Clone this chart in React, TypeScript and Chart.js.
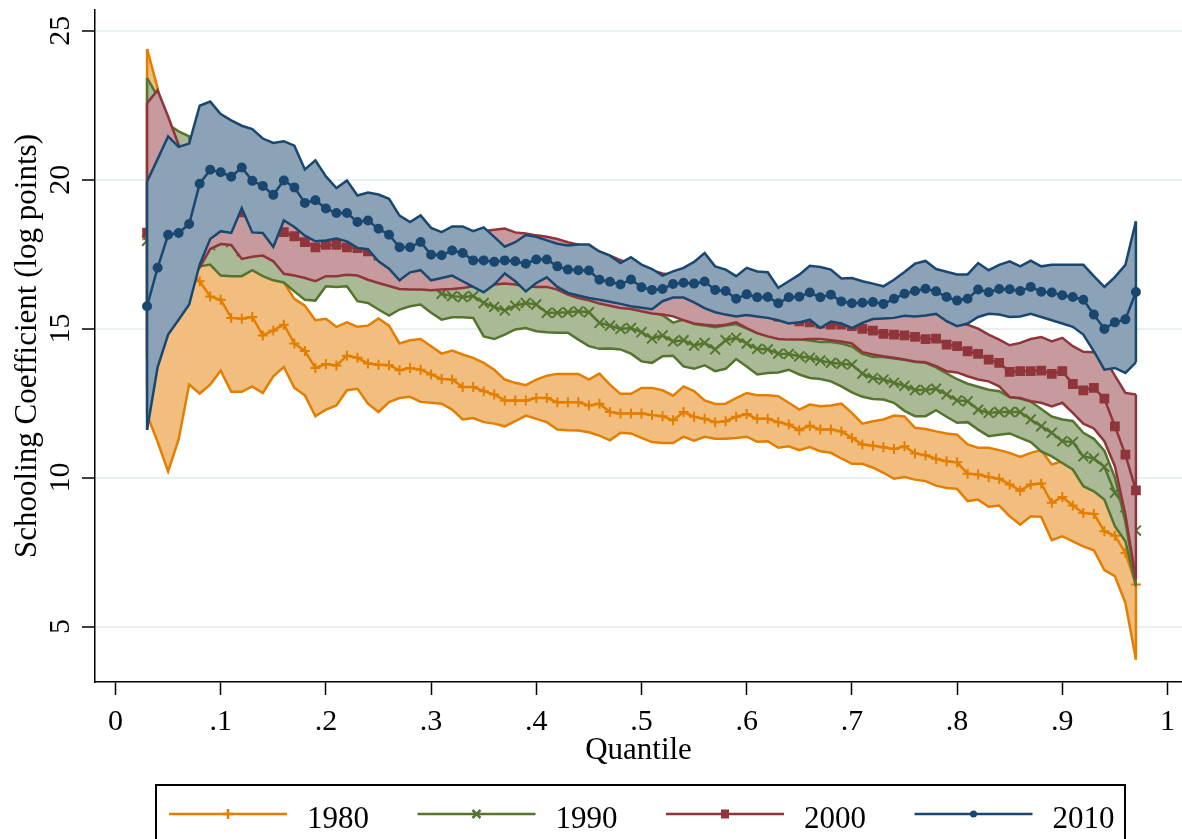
import React, { useEffect, useRef } from 'react';
import { Chart, registerables } from 'chart.js';

Chart.register(...registerables);

const FONT = '"Liberation Serif", "Times New Roman", serif';

// Quantiles at which the schooling coefficient was estimated
const quantiles = [
  0.03, 0.04, 0.05, 0.06, 0.07, 0.08, 0.09, 0.10, 0.11, 0.12,
  0.13, 0.14, 0.15, 0.16, 0.17, 0.18, 0.19, 0.20, 0.21, 0.22,
  0.23, 0.24, 0.25, 0.26, 0.27, 0.28, 0.29, 0.30, 0.31, 0.32,
  0.33, 0.34, 0.35, 0.36, 0.37, 0.38, 0.39, 0.40, 0.41, 0.42,
  0.43, 0.44, 0.45, 0.46, 0.47, 0.48, 0.49, 0.50, 0.51, 0.52,
  0.53, 0.54, 0.55, 0.56, 0.57, 0.58, 0.59, 0.60, 0.61, 0.62,
  0.63, 0.64, 0.65, 0.66, 0.67, 0.68, 0.69, 0.70, 0.71, 0.72,
  0.73, 0.74, 0.75, 0.76, 0.77, 0.78, 0.79, 0.80, 0.81, 0.82,
  0.83, 0.84, 0.85, 0.86, 0.87, 0.88, 0.89, 0.90, 0.91, 0.92,
  0.93, 0.94, 0.95, 0.96, 0.97,
];

// 1980: estimate and confidence band
const est1980 = [
  18.00, 17.00, 16.00, 16.50, 16.90, 16.59, 16.08, 15.97, 15.36, 15.33,
  15.39, 14.77, 14.94, 15.13, 14.50, 14.25, 13.68, 13.81, 13.76, 14.09,
  14.02, 13.83, 13.79, 13.77, 13.60, 13.68, 13.62, 13.46, 13.31, 13.29,
  13.04, 13.04, 12.90, 12.79, 12.59, 12.59, 12.59, 12.67, 12.67, 12.53,
  12.53, 12.53, 12.42, 12.48, 12.20, 12.15, 12.15, 12.15, 12.10, 12.06,
  11.92, 12.20, 12.04, 11.97, 11.86, 11.89, 12.04, 12.13, 11.97, 11.97,
  11.86, 11.78, 11.59, 11.74, 11.61, 11.61, 11.55, 11.33, 11.11, 11.07,
  11.02, 10.96, 11.05, 10.81, 10.75, 10.63, 10.55, 10.51, 10.13, 10.10,
  10.02, 9.96, 9.77, 9.56, 9.77, 9.80, 9.15, 9.35, 9.06, 8.81,
  8.78, 8.20, 8.05, 7.47, 6.41,
];
const hi1980 = [
  24.39, 23.08, 21.00, 19.50, 18.00, 17.20, 17.30, 17.10, 17.00, 17.00,
  17.10, 16.90, 16.75, 16.55, 16.00, 15.77, 15.28, 15.33, 15.06, 15.21,
  15.06, 15.10, 15.34, 15.10, 14.50, 14.61, 14.65, 14.41, 14.16, 14.26,
  14.13, 14.02, 13.85, 13.62, 13.29, 13.18, 13.10, 13.29, 13.42, 13.48,
  13.48, 13.48, 13.29, 13.49, 13.12, 12.81, 12.81, 13.01, 13.01, 12.93,
  12.75, 13.06, 12.90, 12.59, 12.47, 12.48, 12.67, 12.84, 12.76, 12.76,
  12.73, 12.51, 12.28, 12.45, 12.39, 12.42, 12.48, 12.17, 11.81, 11.89,
  11.95, 12.08, 12.05, 11.67, 11.63, 11.55, 11.48, 11.44, 11.11, 11.00,
  11.00, 10.92, 10.83, 10.69, 10.83, 10.92, 10.44, 10.55, 10.40, 9.90,
  9.70, 9.40, 8.60, 8.00, 6.40,
];
const lo1980 = [
  12.11, 11.20, 10.21, 11.28, 13.12, 12.82, 13.12, 13.59, 12.88, 12.88,
  13.06, 12.84, 13.40, 13.71, 13.01, 12.76, 12.06, 12.28, 12.42, 12.93,
  12.98, 12.48, 12.20, 12.53, 12.67, 12.71, 12.54, 12.51, 12.48, 12.28,
  11.95, 12.00, 11.86, 11.81, 11.72, 11.89, 12.08, 11.97, 11.86, 11.61,
  11.59, 11.58, 11.52, 11.41, 11.25, 11.50, 11.48, 11.33, 11.19, 11.16,
  11.16, 11.37, 11.24, 11.37, 11.30, 11.30, 11.33, 11.37, 11.20, 11.22,
  11.00, 11.05, 10.92, 11.02, 10.88, 10.83, 10.64, 10.46, 10.46, 10.33,
  10.16, 9.96, 10.02, 9.93, 9.88, 9.73, 9.65, 9.62, 9.21, 9.26,
  9.02, 9.06, 8.70, 8.42, 8.70, 8.68, 7.90, 8.03, 7.86, 7.69,
  7.56, 6.89, 6.69, 5.79, 3.89,
];

// 1990
const est1990 = [
  17.95, 19.50, 19.00, 18.50, 18.00, 17.60, 17.80, 18.00, 17.90, 17.60,
  17.60, 17.65, 17.50, 17.20, 17.10, 17.00, 16.90, 17.00, 16.95, 17.00,
  16.95, 16.85, 16.75, 16.65, 16.55, 16.50, 16.50, 16.45, 16.17, 16.09,
  16.06, 16.09, 15.86, 15.73, 15.61, 15.77, 15.86, 15.81, 15.53, 15.53,
  15.55, 15.58, 15.55, 15.19, 15.10, 14.99, 15.02, 14.88, 14.67, 14.77,
  14.57, 14.61, 14.43, 14.52, 14.30, 14.61, 14.69, 14.50, 14.32, 14.30,
  14.16, 14.15, 14.07, 14.02, 13.93, 13.85, 13.82, 13.79, 13.49, 13.34,
  13.29, 13.18, 13.08, 12.94, 12.94, 12.98, 12.79, 12.59, 12.56, 12.28,
  12.17, 12.20, 12.20, 12.20, 11.95, 11.72, 11.50, 11.22, 11.19, 10.71,
  10.64, 10.36, 9.49, 9.00, 8.22,
];
const hi1990 = [
  23.41, 22.80, 21.85, 21.62, 21.45, 19.00, 19.00, 19.00, 18.90, 18.60,
  18.60, 18.50, 18.30, 18.00, 17.90, 17.80, 17.70, 17.70, 17.60, 17.60,
  17.50, 17.40, 17.30, 17.20, 17.10, 17.10, 17.00, 16.95, 16.90, 16.90,
  16.85, 16.85, 16.70, 16.60, 16.55, 16.55, 16.60, 16.60, 16.50, 16.40,
  16.30, 16.30, 16.20, 16.05, 15.95, 15.80, 15.80, 15.70, 15.55, 15.45,
  15.20, 15.30, 15.15, 15.10, 15.05, 15.10, 15.15, 15.00, 14.85, 14.75,
  14.70, 14.70, 14.65, 14.60, 14.55, 14.55, 14.50, 14.40, 14.15, 14.05,
  14.05, 14.00, 13.95, 13.88, 13.85, 13.70, 13.50, 13.30, 13.15, 13.05,
  12.95, 12.90, 12.70, 12.65, 12.55, 12.30, 12.05, 11.95, 11.90, 11.50,
  11.30, 10.90, 10.00, 8.50, 6.50,
];
const lo1990 = [
  13.00, 14.50, 15.50, 16.00, 16.50, 17.09, 17.15, 16.78, 16.76, 16.76,
  16.96, 16.76, 16.62, 16.55, 16.25, 15.97, 15.94, 16.42, 16.40, 16.42,
  15.92, 15.86, 15.64, 15.44, 15.64, 15.75, 15.81, 15.53, 15.30, 15.38,
  15.38, 15.36, 14.74, 14.65, 14.80, 14.97, 15.02, 14.91, 14.88, 14.86,
  14.86, 14.63, 14.41, 14.32, 14.33, 14.30, 14.16, 13.90, 13.85, 14.07,
  14.09, 13.73, 13.65, 13.77, 13.57, 13.65, 13.98, 13.73, 13.46, 13.51,
  13.53, 13.62, 13.46, 13.34, 13.31, 13.23, 13.06, 12.86, 12.71, 12.64,
  12.62, 12.51, 12.24, 12.06, 12.06, 12.26, 12.04, 11.84, 11.86, 11.61,
  11.39, 11.44, 11.48, 11.33, 11.19, 10.88, 10.71, 10.49, 10.27, 9.71,
  9.54, 9.26, 8.37, 7.86, 6.35,
];

// 2000
const est2000 = [
  18.22, 19.30, 19.60, 19.20, 18.60, 18.90, 19.10, 19.00, 18.90, 18.90,
  18.70, 18.60, 18.40, 18.24, 18.10, 17.90, 17.73, 17.81, 17.81, 17.73,
  17.70, 17.59, 17.45, 17.30, 17.20, 17.20, 17.25, 17.15, 17.10, 17.15,
  17.10, 17.00, 16.95, 17.05, 17.10, 17.00, 16.95, 17.00, 17.00, 16.90,
  16.80, 16.75, 16.70, 16.60, 16.50, 16.40, 16.35, 16.25, 16.20, 16.15,
  16.30, 16.25, 16.10, 16.00, 15.90, 15.80, 15.75, 15.75, 15.70, 15.60,
  15.40, 15.36, 15.24, 15.21, 15.17, 15.13, 15.13, 15.08, 14.99, 14.93,
  14.82, 14.80, 14.77, 14.72, 14.65, 14.66, 14.46, 14.41, 14.24, 14.15,
  13.96, 13.85, 13.55, 13.57, 13.57, 13.59, 13.48, 13.57, 13.14, 12.93,
  13.01, 12.65, 11.72, 10.77, 9.57,
];
const hi2000 = [
  22.57, 23.00, 22.12, 21.17, 20.80, 20.50, 20.50, 20.40, 20.30, 20.20,
  20.00, 19.90, 19.70, 19.60, 19.40, 19.30, 19.20, 19.10, 19.00, 18.90,
  18.80, 18.70, 18.60, 18.50, 18.40, 18.35, 18.30, 18.25, 18.20, 18.20,
  18.20, 18.20, 18.27, 18.32, 18.36, 18.23, 18.19, 18.13, 18.08, 18.01,
  17.90, 17.82, 17.70, 17.58, 17.45, 17.30, 17.20, 17.05, 16.95, 16.85,
  16.80, 16.70, 16.70, 16.60, 16.50, 16.50, 16.40, 16.40, 16.30, 16.20,
  16.10, 16.10, 16.00, 16.00, 15.90, 15.90, 15.80, 15.70, 15.60, 15.55,
  15.50, 15.45, 15.45, 15.45, 15.46, 15.50, 15.30, 15.21, 15.13, 15.00,
  14.80, 14.63, 14.44, 14.52, 14.65, 14.72, 14.57, 14.69, 14.41, 14.22,
  14.21, 14.02, 13.42, 12.84, 12.79,
];
const lo2000 = [
  14.00, 15.50, 16.00, 16.30, 16.60, 17.05, 17.67, 17.84, 17.81, 17.34,
  17.41, 17.45, 17.26, 16.84, 16.78, 16.70, 16.59, 16.76, 16.76, 16.81,
  16.78, 16.64, 16.53, 16.43, 16.33, 16.31, 16.31, 16.29, 16.31, 16.33,
  16.36, 16.42, 16.44, 16.48, 16.51, 16.48, 16.42, 16.40, 16.40, 16.31,
  16.14, 16.03, 15.95, 15.84, 15.77, 15.69, 15.66, 15.58, 15.51, 15.47,
  15.41, 15.28, 15.17, 15.13, 15.10, 15.13, 15.21, 15.02, 14.85, 14.74,
  14.65, 14.63, 14.63, 14.65, 14.65, 14.61, 14.57, 14.50, 14.21, 14.13,
  14.07, 14.02, 13.96, 13.90, 13.87, 13.74, 13.57, 13.53, 13.40, 13.29,
  13.23, 13.06, 12.70, 12.67, 12.56, 12.51, 12.39, 12.51, 12.17, 11.81,
  11.65, 11.22, 10.38, 8.75, 6.58,
];

// 2010
const est2010 = [
  15.75, 17.04, 18.15, 18.21, 18.51, 19.86, 20.33, 20.25, 20.10, 20.41,
  19.96, 19.79, 19.49, 19.97, 19.74, 19.22, 19.31, 19.03, 18.88, 18.88,
  18.58, 18.63, 18.35, 18.15, 17.73, 17.73, 17.91, 17.48, 17.46, 17.62,
  17.54, 17.29, 17.29, 17.24, 17.29, 17.26, 17.18, 17.32, 17.32, 17.09,
  16.98, 16.96, 16.95, 16.64, 16.57, 16.48, 16.65, 16.39, 16.30, 16.33,
  16.50, 16.54, 16.51, 16.58, 16.30, 16.26, 16.00, 16.15, 16.05, 16.06,
  15.85, 16.05, 16.07, 16.21, 16.05, 16.14, 15.91, 15.85, 15.87, 15.89,
  15.83, 16.00, 16.17, 16.26, 16.34, 16.25, 16.06, 15.94, 16.00, 16.31,
  16.22, 16.33, 16.32, 16.26, 16.40, 16.24, 16.21, 16.12, 16.06, 15.97,
  15.47, 14.99, 15.21, 15.31, 16.23,
];
const hi2010 = [
  19.94, 20.69, 21.45, 21.10, 21.21, 22.48, 22.62, 22.20, 21.99, 21.81,
  21.70, 21.38, 21.23, 21.29, 21.14, 20.34, 20.65, 20.11, 19.72, 19.97,
  19.47, 19.57, 19.50, 19.36, 18.79, 18.58, 18.80, 18.38, 18.24, 18.43,
  18.43, 18.27, 18.40, 18.08, 17.75, 17.90, 18.14, 18.08, 17.96, 17.85,
  17.79, 17.82, 17.82, 17.59, 17.45, 17.20, 17.40, 17.15, 17.00, 16.78,
  16.92, 17.04, 17.24, 17.54, 17.09, 16.98, 16.76, 17.04, 16.92, 16.89,
  16.37, 16.59, 16.81, 17.11, 17.07, 16.98, 16.68, 16.70, 16.59, 16.51,
  16.42, 16.64, 16.90, 17.18, 17.27, 17.00, 16.91, 16.82, 16.82, 17.20,
  16.96, 17.14, 17.26, 17.09, 17.28, 17.09, 17.14, 17.14, 17.14, 17.14,
  16.76, 16.40, 16.73, 17.14, 18.60,
];
const lo2010 = [
  11.60, 13.70, 14.80, 15.30, 15.81, 17.15, 18.01, 18.27, 18.21, 19.04,
  18.23, 18.21, 17.74, 18.63, 18.41, 18.12, 17.93, 17.96, 18.02, 17.93,
  17.71, 17.67, 17.26, 17.01, 16.62, 16.89, 16.96, 16.62, 16.70, 16.78,
  16.59, 16.40, 16.22, 16.48, 16.85, 16.59, 16.25, 16.53, 16.72, 16.40,
  16.20, 16.11, 16.03, 15.97, 15.90, 15.83, 15.75, 15.70, 15.65, 15.92,
  16.04, 16.04, 15.88, 15.69, 15.55, 15.47, 15.41, 15.46, 15.41, 15.36,
  15.28, 15.17, 15.21, 15.30, 15.02, 15.24, 15.17, 15.02, 15.19, 15.32,
  15.34, 15.36, 15.43, 15.41, 15.44, 15.50, 15.25, 15.08, 15.17, 15.39,
  15.50, 15.47, 15.39, 15.41, 15.50, 15.39, 15.28, 15.17, 15.06, 14.80,
  14.24, 13.62, 13.68, 13.51, 13.87,
];

// Axis ticks and legend text
const xTickValues = [0, 0.1, 0.2, 0.3, 0.4, 0.5, 0.6, 0.7, 0.8, 0.9, 1];
const xTickLabels = ['0', '.1', '.2', '.3', '.4', '.5', '.6', '.7', '.8', '.9', '1'];
const yTickValues = [5, 10, 15, 20, 25];
const yTickLabels = ['5', '10', '15', '20', '25'];
const seriesNames = ['1980', '1990', '2000', '2010'];

// Styling per series
const lineColors = ['#e37e00', '#55752f', '#90353b', '#1a476f'];
const fillColors = ['#f1be7f', '#aaba97', '#c79a9d', '#8ca3b7'];
const markerStyles = ['cross', 'crossRot', 'rect', 'circle'];
const markerRadii = [5, 7, 5.5, 4];

const series = [
  { est: est1980, hi: hi1980, lo: lo1980 },
  { est: est1990, hi: hi1990, lo: lo1990 },
  { est: est2000, hi: hi2000, lo: lo2000 },
  { est: est2010, hi: hi2010, lo: lo2010 },
];

const toPoints = (vals: number[]) => vals.map((v, i) => ({ x: quantiles[i], y: v }));

function buildDatasets() {
  const out: any[] = [];
  series.forEach((s, k) => {
    const base = 12 - 3 * k;
    out.push({
      label: seriesNames[k] + ' upper',
      data: toPoints(s.hi),
      borderColor: lineColors[k],
      backgroundColor: fillColors[k],
      borderWidth: 2.5,
      pointRadius: 0,
      tension: 0,
      fill: '+1',
      order: base,
      bandUpper: true,
    });
    out.push({
      label: seriesNames[k] + ' lower',
      data: toPoints(s.lo),
      borderColor: lineColors[k],
      backgroundColor: fillColors[k],
      borderWidth: 2.5,
      pointRadius: 0,
      tension: 0,
      fill: false,
      order: base - 1,
    });
    out.push({
      label: seriesNames[k],
      data: toPoints(s.est),
      borderColor: lineColors[k],
      backgroundColor: lineColors[k],
      borderWidth: 2.5,
      pointStyle: markerStyles[k],
      pointRadius: markerRadii[k],
      pointBorderWidth: 2,
      pointBackgroundColor: lineColors[k],
      pointBorderColor: lineColors[k],
      tension: 0,
      fill: false,
      order: base - 2,
    });
  });
  return out;
}

// Closes each confidence band with vertical edges at its first and last quantile
const bandEdges = {
  id: 'bandEdges',
  afterDatasetDraw(chart: any, args: any) {
    const ds = chart.data.datasets[args.index];
    if (!ds.bandUpper) return;
    const upper = chart.getDatasetMeta(args.index).data;
    const lower = chart.getDatasetMeta(args.index + 1).data;
    const ctx = chart.ctx;
    ctx.save();
    ctx.strokeStyle = ds.borderColor;
    ctx.lineWidth = ds.borderWidth;
    [0, upper.length - 1].forEach((k) => {
      ctx.beginPath();
      ctx.moveTo(upper[k].x, upper[k].y);
      ctx.lineTo(lower[k].x, lower[k].y);
      ctx.stroke();
    });
    ctx.restore();
  },
};

// Tick labels: horizontal ones under the x axis, vertical ones beside the y axis
const tickText = {
  id: 'tickText',
  afterDraw(chart: any) {
    const { ctx } = chart;
    const { x, y } = chart.scales;
    ctx.save();
    ctx.font = `30px ${FONT}`;
    ctx.fillStyle = '#000';
    ctx.textAlign = 'center';
    ctx.textBaseline = 'alphabetic';
    xTickValues.forEach((v, i) => {
      ctx.fillText(xTickLabels[i], x.getPixelForValue(v), 730);
    });
    yTickValues.forEach((v, i) => {
      const py = y.getPixelForValue(v);
      ctx.save();
      ctx.translate(69, py);
      ctx.rotate(-Math.PI / 2);
      ctx.fillText(yTickLabels[i], 0, 0);
      ctx.restore();
    });
    ctx.restore();
  },
};

function drawMarker(ctx: CanvasRenderingContext2D, style: string, x: number, y: number, color: string) {
  ctx.save();
  ctx.strokeStyle = color;
  ctx.fillStyle = color;
  ctx.lineWidth = 2.5;
  ctx.beginPath();
  if (style === 'cross') {
    ctx.moveTo(x, y - 5);
    ctx.lineTo(x, y + 5);
    ctx.moveTo(x - 5, y);
    ctx.lineTo(x + 5, y);
    ctx.stroke();
  } else if (style === 'crossRot') {
    ctx.moveTo(x - 4, y - 4);
    ctx.lineTo(x + 4, y + 4);
    ctx.moveTo(x - 4, y + 4);
    ctx.lineTo(x + 4, y - 4);
    ctx.stroke();
  } else if (style === 'rect') {
    ctx.fillRect(x - 4, y - 4.5, 8, 9);
  } else {
    ctx.arc(x, y, 3.5, 0, Math.PI * 2);
    ctx.fill();
  }
  ctx.restore();
}

// Boxed legend below the axis title
const boxedLegend = {
  id: 'boxedLegend',
  afterDraw(chart: any) {
    const { ctx } = chart;
    ctx.save();
    ctx.strokeStyle = '#000';
    ctx.lineWidth = 2;
    ctx.strokeRect(156, 785, 969, 80);
    ctx.font = `31px ${FONT}`;
    ctx.fillStyle = '#000';
    ctx.textAlign = 'left';
    ctx.textBaseline = 'alphabetic';
    seriesNames.forEach((name, k) => {
      const x0 = 169 + k * 248.5;
      const ly = 814;
      ctx.strokeStyle = lineColors[k];
      ctx.lineWidth = 2.5;
      ctx.beginPath();
      ctx.moveTo(x0, ly);
      ctx.lineTo(x0 + 118, ly);
      ctx.stroke();
      drawMarker(ctx, markerStyles[k], x0 + 59, ly, lineColors[k]);
      ctx.fillStyle = '#000';
      ctx.fillText(name, x0 + 138, 828);
    });
    ctx.restore();
  },
};

export default function App() {
  const canvasRef = useRef<HTMLCanvasElement | null>(null);

  useEffect(() => {
    document.body.style.margin = '0';
    const canvas = canvasRef.current;
    if (!canvas) return;
    Chart.defaults.font.family = FONT;

    const chart = new Chart(canvas, {
      type: 'line',
      data: { datasets: buildDatasets() },
      options: {
        responsive: false,
        animation: false,
        devicePixelRatio: 1,
        events: [],
        layout: { autoPadding: false, padding: { top: 10, right: 0, bottom: 67, left: 0 } },
        plugins: {
          legend: { display: false },
          tooltip: { enabled: false },
        },
        scales: {
          x: {
            type: 'linear',
            min: -0.0195,
            max: 1.0138,
            afterBuildTicks: (s: any) => {
              s.ticks = xTickValues.map((v) => ({ value: v }));
            },
            afterFit: (s: any) => {
              s.height = 90;
            },
            ticks: { display: false },
            grid: {
              drawOnChartArea: false,
              drawTicks: true,
              tickLength: 13,
              tickColor: '#000',
              tickWidth: 1.5,
            },
            border: { display: true, color: '#000', width: 1.5 },
            title: {
              display: true,
              text: 'Quantile',
              font: { family: FONT, size: 31 },
              color: '#000',
              padding: { top: 0, bottom: 3 },
            },
          },
          y: {
            type: 'linear',
            min: 3.137,
            max: 25.695,
            afterBuildTicks: (s: any) => {
              s.ticks = yTickValues.map((v) => ({ value: v }));
            },
            afterFit: (s: any) => {
              s.width = 95;
            },
            ticks: { display: false },
            grid: {
              color: '#e9f0f2',
              lineWidth: 2,
              drawTicks: true,
              tickLength: 13,
              tickColor: '#000',
              tickWidth: 1.5,
            },
            border: { display: true, color: '#000', width: 1.5 },
            title: {
              display: true,
              text: 'Schooling Coefficient (log points)',
              font: { family: FONT, size: 31 },
              color: '#000',
              padding: { top: 9, bottom: 0 },
            },
          },
        },
      } as any,
      plugins: [bandEdges, tickText, boxedLegend],
    });

    return () => chart.destroy();
  }, []);

  return (
    <div style={{ width: 1182, height: 839 }}>
      <canvas ref={canvasRef} width={1182} height={839} style={{ display: 'block' }} />
    </div>
  );
}
